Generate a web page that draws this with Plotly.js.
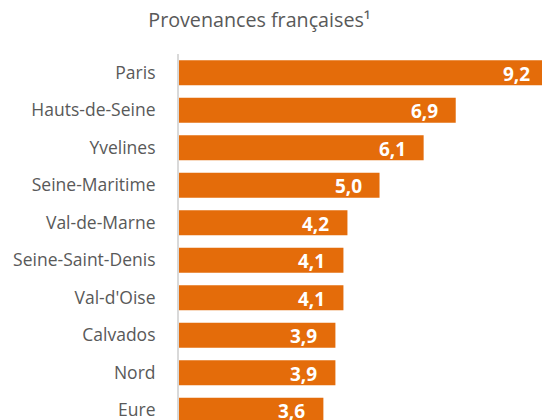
<!DOCTYPE html>
<html>
<head>
<meta charset="utf-8">
<script src="https://cdn.plot.ly/plotly-3.0.1.min.js"></script>
<style>
html, body { margin: 0; padding: 0; overflow: hidden; background: #ffffff; }
#chart { width: 560px; height: 429px; }
</style>
</head>
<body>
<div id="chart"></div>
<script>
var departements = ["Paris", "Hauts-de-Seine", "Yvelines", "Seine-Maritime", "Val-de-Marne",
  "Seine-Saint-Denis", "Val-d'Oise", "Calvados", "Nord", "Eure"];
var parts = [9.2, 6.9, 6.1, 5.0, 4.2, 4.1, 4.1, 3.9, 3.9, 3.6];
var chartTitle = "Provenances françaises¹";

function fr(v) { return v.toFixed(1).replace(".", ","); }

var trace = {
  type: "bar",
  orientation: "h",
  y: departements,
  x: parts,
  marker: { color: "#E46C0A" },
  hoverinfo: "none",
  cliponaxis: true
};

var annotations = departements.map(function (d, i) {
  return {
    x: parts[i], y: d, xref: "x", yref: "y",
    text: fr(parts[i]), showarrow: false,
    xanchor: "right", yanchor: "middle", xshift: -16, yshift: -1,
    font: { family: "Open Sans, sans-serif", size: 19, color: "#ffffff", weight: "bold" }
  };
});

var layout = {
  width: 560, height: 429,
  margin: { l: 179, r: 0, t: 54, b: 0, autoexpand: false },
  paper_bgcolor: "#ffffff", plot_bgcolor: "#ffffff",
  showlegend: false,
  bargap: 0.333,
  title: {
    text: chartTitle,
    x: 259.5 / 560, xanchor: "center", xref: "container",
    y: 1 - 20 / 429, yanchor: "middle", yref: "container",
    font: { family: "Open Sans, sans-serif", size: 19.7, color: "#595959" }
  },
  xaxis: {
    range: [0, 9.5], showgrid: false, zeroline: false, showline: false,
    showticklabels: false, ticks: "", fixedrange: true
  },
  yaxis: {
    type: "category", autorange: "reversed",
    showgrid: false, zeroline: false, showline: true, linecolor: "#D9D9D9", linewidth: 2,
    ticks: "", ticklabelstandoff: 18,
    tickfont: { family: "Open Sans, sans-serif", size: 17.5, color: "#595959" },
    fixedrange: true
  },
  annotations: annotations
};

Plotly.newPlot("chart", [trace], layout, { displayModeBar: false, staticPlot: true });
</script>
</body>
</html>
